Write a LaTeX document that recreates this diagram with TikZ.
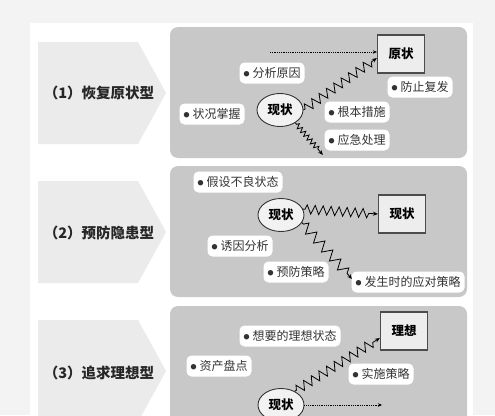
\documentclass[tikz,border=0pt]{standalone}
\usepackage{fontspec}
\newfontfamily\cjk{Noto Sans CJK SC}
\usetikzlibrary{shapes.geometric, decorations.pathmorphing, arrows.meta}

\definecolor{pagegray}{HTML}{F3F3F3}
\definecolor{panelgray}{HTML}{C8C8C8}
\definecolor{tabgray}{HTML}{EBEBEB}

\newcommand\bul{\raisebox{1.5pt}{\fontsize{6}{6}\selectfont ●}\hspace{3pt}}

\begin{document}
\begin{tikzpicture}[x=1pt, y=-1pt, font=\cjk,
  panel/.style={fill=panelgray, rounded corners=8pt},
  tab/.style={fill=tabgray},
  title/.style={font=\cjk\bfseries\fontsize{14.5}{16}\selectfont, text=black!85},
  item/.style={fill=white, rounded corners=5pt, inner xsep=4pt, minimum height=21pt,
    font=\cjk\fontsize{12}{14}\selectfont, text=black!80},
  now/.style={ellipse, draw=black!80, line width=0.9pt, fill=black!5, inner sep=0pt,
    minimum width=46pt, minimum height=33pt, font=\cjk\bfseries\fontsize{12.5}{14}\selectfont},
  goal/.style={draw=black!70, line width=1.2pt, fill=black!7, minimum width=47pt,
    minimum height=38pt, font=\cjk\bfseries\fontsize{12.5}{14}\selectfont},
  zz/.style={decorate, decoration={zigzag, segment length=9pt, amplitude=4.5pt,
    pre length=2pt, post length=6pt}, line width=0.8pt, -{Stealth[length=5pt, width=4pt]}},
  dots/.style={densely dotted, line width=0.8pt, -{Stealth[length=4pt, width=3.5pt]}}]

  \useasboundingbox (0,0) rectangle (495,415);
  \clip (0,0) rectangle (495,415);

  % page and panels
  \fill[pagegray] (0,0) rectangle (495,415);
  \fill[white] (30,23) rectangle (473,415);
  \fill[panel] (170,27) rectangle (467,158);
  \fill[panel] (170,166) rectangle (467,297);
  \fill[panel] (170,306) rectangle (467,440);

  % tabs
  \fill[tab] (38,42) -- (138,42) -- (166,93) -- (138,144) -- (38,144) -- cycle;
  \fill[tab] (38,181) -- (138,181) -- (166,232) -- (138,283) -- (38,283) -- cycle;
  \fill[tab] (38,320) -- (138,320) -- (166,371) -- (138,422) -- (38,422) -- cycle;

  \node[title] (t1) at (99,93) {（1）恢复原状型};
  \node[title] (t2) at (99,233) {（2）预防隐患型};
  \node[title] (t3) at (99,373) {（3）追求理想型};

  % (1)
  \node[goal] (orig1) at (401,54) {原状};
  \node[now] (cur1) at (280,110) {现状};
  \node[item] (cause) at (272,73) {\bul 分析原因};
  \node[item] (prevent) at (420,87) {\bul 防止复发};
  \node[item] (grasp) at (212,114) {\bul 状况掌握};
  \node[item] (root) at (357,112) {\bul 根本措施};
  \node[item] (urgent) at (357,140) {\bul 应急处理};
  \coordinate (from1) at (270,52);
  \coordinate (down1) at (323,155);
  \draw[dots] (from1) -- (from1 -| orig1.west);
  \draw[zz] (cur1.east) -- ([yshift=-4pt]orig1.west);
  \draw[zz, decoration={segment length=5pt, amplitude=2.5pt}] (cur1.-40) -- (down1);

  % (2)
  \node[item] (assume) at (238,182) {\bul 假设不良状态};
  \node[now] (cur2) at (281,215) {现状};
  \node[goal] (orig2) at (402,214) {现状};
  \node[item] (trigger) at (240,246) {\bul 诱因分析};
  \node[item] (plan) at (296,272) {\bul 预防策略};
  \node[item] (cope) at (408,282) {\bul 发生时的应对策略};
  \coordinate (down2) at (352,279);
  \draw[zz, decoration={segment length=8pt}] (cur2.15) -- (orig2.west);
  \draw[zz, decoration={segment length=12pt, amplitude=5pt}] (cur2.-20) -- (down2);

  % (3)
  \node[item] (want) at (290,336) {\bul 想要的理想状态};
  \node[goal] (ideal) at (404,331) {理想};
  \node[item] (stock) at (219,366) {\bul 资产盘点};
  \node[item] (act) at (381,374) {\bul 实施策略};
  \node[now] (cur3) at (281,405) {现状};
  \coordinate (to3) at (382,405);
  \draw[zz] (cur3.45) -- ([yshift=-7pt]ideal.west);
  \draw[dots] (cur3.east) -- (to3);
\end{tikzpicture}
\end{document}
